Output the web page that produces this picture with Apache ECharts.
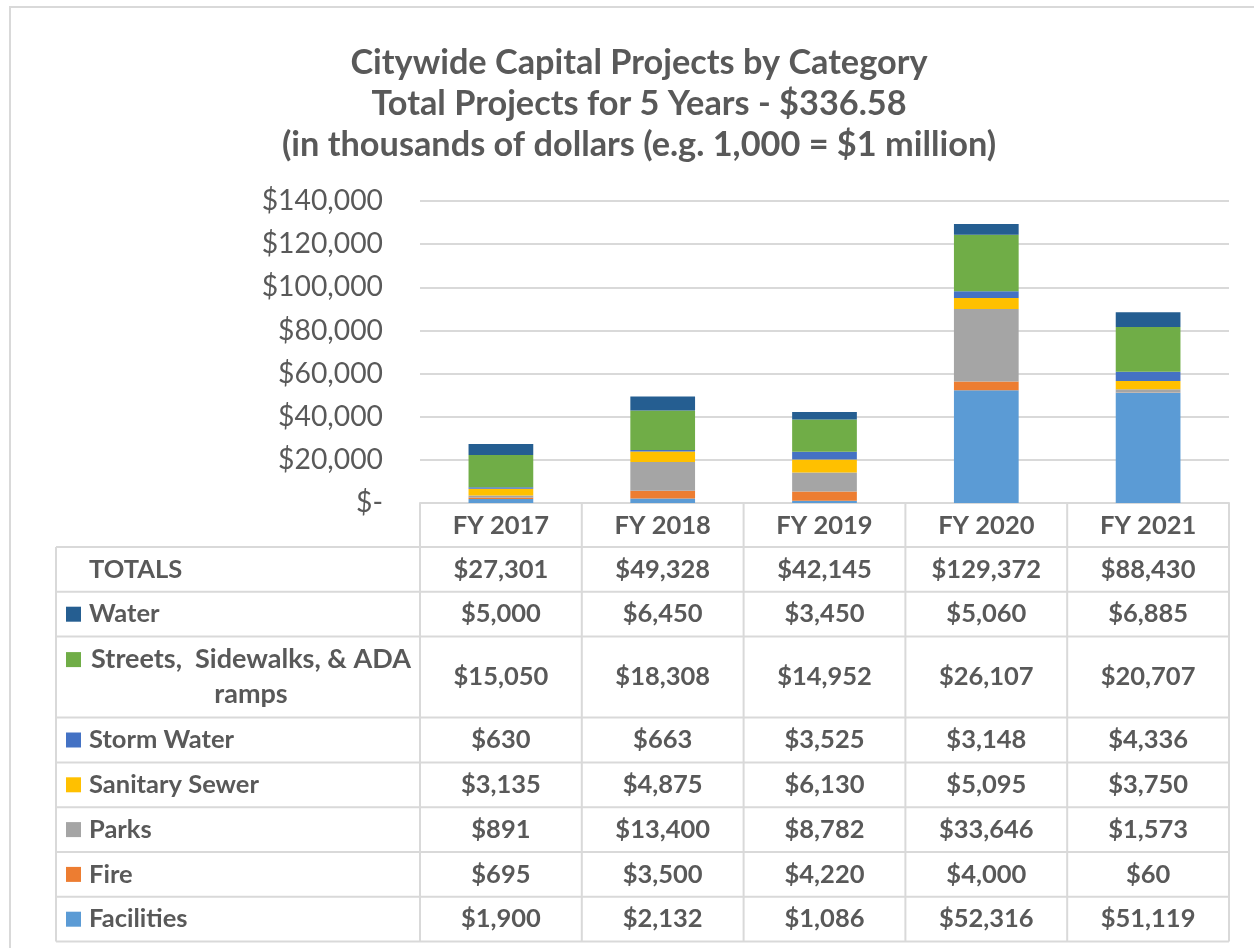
<!DOCTYPE html>
<html>
<head>
<meta charset="utf-8">
<script src="https://cdn.jsdelivr.net/npm/echarts@6/dist/echarts.min.js"></script>
<style>
html,body{margin:0;padding:0;background:#fff;}
#c{width:1254px;height:948px;}
</style>
</head>
<body>
<div id="c"></div>
<script>
// ---- data ----
const years = ['FY 2017', 'FY 2018', 'FY 2019', 'FY 2020', 'FY 2021'];
const totals = [27301, 49328, 42145, 129372, 88430];
const water = [5000, 6450, 3450, 5060, 6885];
const streets = [15050, 18308, 14952, 26107, 20707];
const stormWater = [630, 663, 3525, 3148, 4336];
const sanitarySewer = [3135, 4875, 6130, 5095, 3750];
const parks = [891, 13400, 8782, 33646, 1573];
const fire = [695, 3500, 4220, 4000, 60];
const facilities = [1900, 2132, 1086, 52316, 51119];
const yTicks = [0, 20000, 40000, 60000, 80000, 100000, 120000, 140000];

const seriesNames = ['Facilities', 'Fire', 'Parks', 'Sanitary Sewer', 'Storm Water', 'Streets,  Sidewalks, & ADA ramps', 'Water'];
const seriesData = [facilities, fire, parks, sanitarySewer, stormWater, streets, water];
const colors = ['#5B9BD5', '#ED7D31', '#A5A5A5', '#FFC000', '#4472C4', '#70AD47', '#255E91'];

// ---- style / layout ----
const FONT = 'Lato, "Open Sans", sans-serif';
const TXT = '#595959';
const LINE = '#d9d9d9';

const fmt = v => '$' + v.toLocaleString('en-US');

const chart = echarts.init(document.getElementById('c'), null, {renderer: 'canvas'});

const option = {
  animation: false,
  color: colors,
  title: {
    text: 'Citywide Capital Projects by Category\nTotal Projects for 5 Years - $336.58\n(in thousands of dollars (e.g. 1,000 = $1 million)',
    left: 634,
    textAlign: 'center',
    top: 37,
    textStyle: {fontFamily: FONT, fontWeight: 'bold', fontSize: 34.3, color: TXT, lineHeight: 41}
  },
  grid: {left: 420, right: 25, top: 201, bottom: 445, containLabel: false},
  xAxis: {
    type: 'category',
    data: years,
    axisLine: {show: true, lineStyle: {color: LINE, width: 2}},
    axisTick: {show: false},
    axisLabel: {fontFamily: FONT, fontWeight: 'bold', fontSize: 25.5, color: TXT, margin: 10}
  },
  yAxis: {
    type: 'value',
    min: yTicks[0],
    max: yTicks[yTicks.length - 1],
    interval: yTicks[1] - yTicks[0],
    axisLine: {show: false},
    axisTick: {show: false},
    splitLine: {lineStyle: {color: LINE, width: 2}},
    axisLabel: {
      fontFamily: FONT, fontSize: 28.3, color: TXT, margin: 37,
      formatter: v => v === 0 ? '$-' : fmt(v)
    }
  },
  series: seriesNames.map((n, i) => ({
    name: n,
    type: 'bar',
    stack: 'total',
    barWidth: '40%',
    data: seriesData[i],
    itemStyle: {color: colors[i]}
  }))
};
chart.setOption(option);

// ---- data table under the chart ----
function buildTable() {
  const c0 = chart.convertToPixel({xAxisIndex: 0}, 0);
  const c1 = chart.convertToPixel({xAxisIndex: 0}, 1);
  const band = c1 - c0;
  const axisY = chart.convertToPixel({yAxisIndex: 0}, 0);
  const colLeft = c0 - band / 2;
  const colRight = colLeft + band * years.length;
  const tableLeft = 56;

  const rowH = 44.8;
  const rows = [
    {label: 'TOTALS', values: totals, color: null, h: rowH},
    {label: 'Water', values: water, color: colors[6], h: rowH},
    {label: 'Streets,  Sidewalks, & ADA\nramps', values: streets, color: colors[5], h: 81, wrap: true},
    {label: 'Storm Water', values: stormWater, color: colors[4], h: rowH},
    {label: 'Sanitary Sewer', values: sanitarySewer, color: colors[3], h: rowH},
    {label: 'Parks', values: parks, color: colors[2], h: rowH},
    {label: 'Fire', values: fire, color: colors[1], h: rowH},
    {label: 'Facilities', values: facilities, color: colors[0], h: rowH}
  ];

  const g = [];
  // outer chart border
  g.push({type: 'rect', silent: true, z: -10, shape: {x: 10, y: 7, width: 1400, height: 1200},
    style: {fill: null, stroke: LINE, lineWidth: 2}});

  const line = (x1, y1, x2, y2) => g.push({type: 'line', silent: true,
    shape: {x1, y1, x2, y2}, style: {stroke: LINE, lineWidth: 2}});

  let y = axisY + 44;
  const tableTop = y;
  let bottom = tableTop;
  rows.forEach(r => bottom += r.h);
  for (let i = 0; i <= years.length; i++) {
    const x = colLeft + band * i;
    line(x, axisY, x, bottom);
  }
  line(tableLeft, tableTop, tableLeft, bottom);
  line(tableLeft, tableTop, colRight, tableTop);

  const ts = {fontFamily: FONT, fontWeight: 'bold', fontSize: 25.5, fill: TXT, verticalAlign: 'middle'};
  rows.forEach(r => {
    const cy = y + r.h / 2;
    if (r.color) {
      const my = r.wrap ? cy - 17.5 : cy;
      g.push({type: 'rect', silent: true, shape: {x: 66, y: my - 7.5, width: 15, height: 15},
        style: {fill: r.color}});
    }
    if (r.wrap) {
      g.push({type: 'text', silent: true, x: 251, y: cy,
        style: Object.assign({text: r.label, align: 'center', lineHeight: 35}, ts, {fontSize: 27})});
    } else {
      g.push({type: 'text', silent: true, x: 89, y: cy,
        style: Object.assign({text: r.label, align: 'left'}, ts)});
    }
    r.values.forEach((v, i) => {
      g.push({type: 'text', silent: true, x: c0 + band * i, y: cy,
        style: Object.assign({text: fmt(v), align: 'center'}, ts)});
    });
    y += r.h;
    line(tableLeft, y, colRight, y);
  });

  chart.setOption({graphic: g});
}
buildTable();
</script>
</body>
</html>
